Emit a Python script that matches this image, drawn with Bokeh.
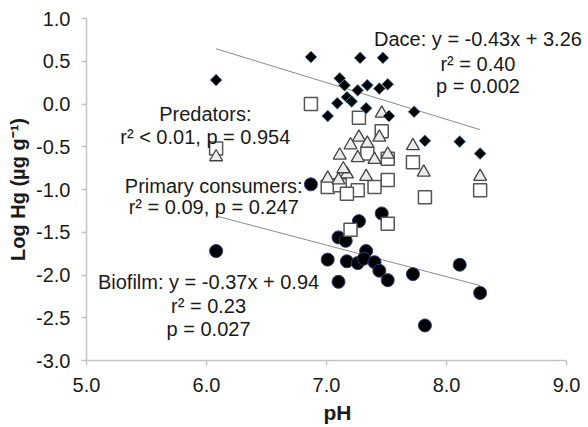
import math
from bokeh.plotting import figure
from bokeh.models import Range1d, FixedTicker, PrintfTickFormatter, Label
from bokeh.embed import file_html
from bokeh.resources import INLINE

# ---------------- data ----------------
x_ticks = [5.0, 6.0, 7.0, 8.0, 9.0]
y_ticks = [-3.0, -2.5, -2.0, -1.5, -1.0, -0.5, 0.0, 0.5, 1.0]

dace_ph = [6.08, 6.87, 7.28, 7.47, 7.11, 7.15, 7.26, 7.34, 7.44, 7.51,
           7.17, 7.21, 7.09, 7.33, 7.01, 7.52, 7.73, 7.82, 8.11, 8.28]
dace_hg = [0.28, 0.55, 0.54, 0.54, 0.30, 0.22, 0.16, 0.22, 0.18, 0.23,
           0.08, 0.03, 0.01, -0.05, -0.14, -0.14, -0.09, -0.43, -0.44, -0.58]

pred_ph = [6.08, 6.87, 7.27, 7.46, 7.34, 7.51, 7.72, 7.51, 7.26, 7.40,
           7.01, 7.11, 7.17, 7.82, 8.28, 7.20, 7.51]
pred_hg = [-0.52, 0.00, -0.16, -0.32, -0.58, -0.64, -0.68, -0.89, -1.01, -0.97,
           -0.97, -0.95, -1.05, -1.09, -1.01, -1.47, -1.40]

prim_ph = [6.08, 7.46, 7.44, 7.27, 7.20, 7.34, 7.11, 7.26, 7.40, 7.51,
           7.72, 7.81, 7.17, 7.01, 7.10, 7.33, 8.28, 7.14]
prim_hg = [-0.62, -0.11, -0.39, -0.39, -0.48, -0.46, -0.60, -0.63, -0.65, -0.59,
           -0.49, -0.80, -0.82, -0.87, -0.89, -0.85, -0.85, -0.76]

bio_ph = [6.08, 6.87, 7.46, 7.27, 7.10, 7.16, 7.01, 7.17, 7.26, 7.33,
          7.31, 7.40, 7.44, 7.51, 7.10, 7.72, 8.11, 8.28, 7.82]
bio_hg = [-1.72, -0.94, -1.28, -1.37, -1.56, -1.60, -1.82, -1.84, -1.86, -1.72,
          -1.81, -1.85, -1.95, -2.06, -2.08, -1.99, -1.88, -2.21, -2.59]

dace_fit = (-0.43, 3.26)
bio_fit = (-0.37, 0.94)

dace_text = ["Dace: y = -0.43x + 3.26", "r² = 0.40", "p = 0.002"]
pred_text = ["Predators:", "r² < 0.01, p = 0.954"]
prim_text = ["Primary consumers:", "r² = 0.09, p = 0.247"]
bio_text = ["Biofilm: y = -0.37x + 0.94", "r² = 0.23", "p = 0.027"]

FONT = "Liberation Sans"
TXT = "#1a1a1a"

p = figure(width=588, height=427, output_backend="svg", toolbar_location=None,
           x_range=Range1d(5, 9.183), y_range=Range1d(-3, 1),
           min_border_left=86, min_border_right=0, min_border_top=18,
           min_border_bottom=67)
p.xgrid.visible = False
p.ygrid.visible = False
p.outline_line_color = None
p.background_fill_color = "white"
p.border_fill_color = "white"

p.xaxis.ticker = FixedTicker(ticks=x_ticks)
p.yaxis.ticker = FixedTicker(ticks=y_ticks)
p.xaxis.bounds = (5, 9)
for ax in (p.xaxis, p.yaxis):
    ax.formatter = PrintfTickFormatter(format="%.1f")
    ax.axis_line_color = "#c4c4c4"
    ax.axis_line_width = 1.5
    ax.major_tick_line_color = "#c4c4c4"
    ax.major_tick_line_width = 1.5
    ax.major_tick_in = 0
    ax.major_tick_out = 5
    ax.minor_tick_out = 0
    ax.minor_tick_in = 0
    ax.major_label_text_font = FONT
    ax.major_label_text_font_size = "20px"
    ax.major_label_text_color = TXT
    ax.axis_label_text_font = FONT
    ax.axis_label_text_font_style = "bold"
    ax.axis_label_text_color = TXT
p.xaxis.axis_label = "pH"
p.xaxis.axis_label_text_font_size = "21px"
p.xaxis.major_label_standoff = 12
p.xaxis.axis_label_standoff = 6
p.yaxis.axis_label = "Log Hg (µg g⁻¹)"
p.yaxis.axis_label_text_font_size = "20px"
p.yaxis.major_label_standoff = 11
p.yaxis.axis_label_standoff = 4

# trend lines
for fit, xs in ((dace_fit, dace_ph), (bio_fit, bio_ph)):
    x0, x1 = min(xs), max(xs)
    p.line([x0, x1], [fit[0] * x0 + fit[1], fit[0] * x1 + fit[1]],
           line_color="#8a8a8a", line_width=1)

# markers
p.scatter(bio_ph, bio_hg, marker="circle", size=13, fill_color="black",
          line_color="#2b3a7a", line_width=1)
p.scatter(pred_ph, pred_hg, marker="square", size=13, fill_color="white",
          line_color="#555555", line_width=1.5)
p.scatter(prim_ph, prim_hg, marker="triangle", size=13, fill_color="#ebebeb",
          line_color="#444444", line_width=1.3)
p.scatter(dace_ph, dace_hg, marker="square", angle=math.pi / 4, size=8.5,
          fill_color="black", line_color="#6fa8dc", line_width=0.8)

def block(lines, x, ys):
    for t, y in zip(lines, ys):
        p.add_layout(Label(x=x, y=y, text=t, text_align="center",
                           text_baseline="alphabetic", text_font=FONT,
                           text_font_size="20px", text_color=TXT))

block(dace_text, 8.262, [0.766, 0.473, 0.207])
block(pred_text, 5.99, [-0.112, -0.39])
block(prim_text, 6.06, [-0.96, -1.20])
block(bio_text, 6.017, [-2.084, -2.363, -2.632])

open("out.html", "w").write(file_html(p, INLINE))
